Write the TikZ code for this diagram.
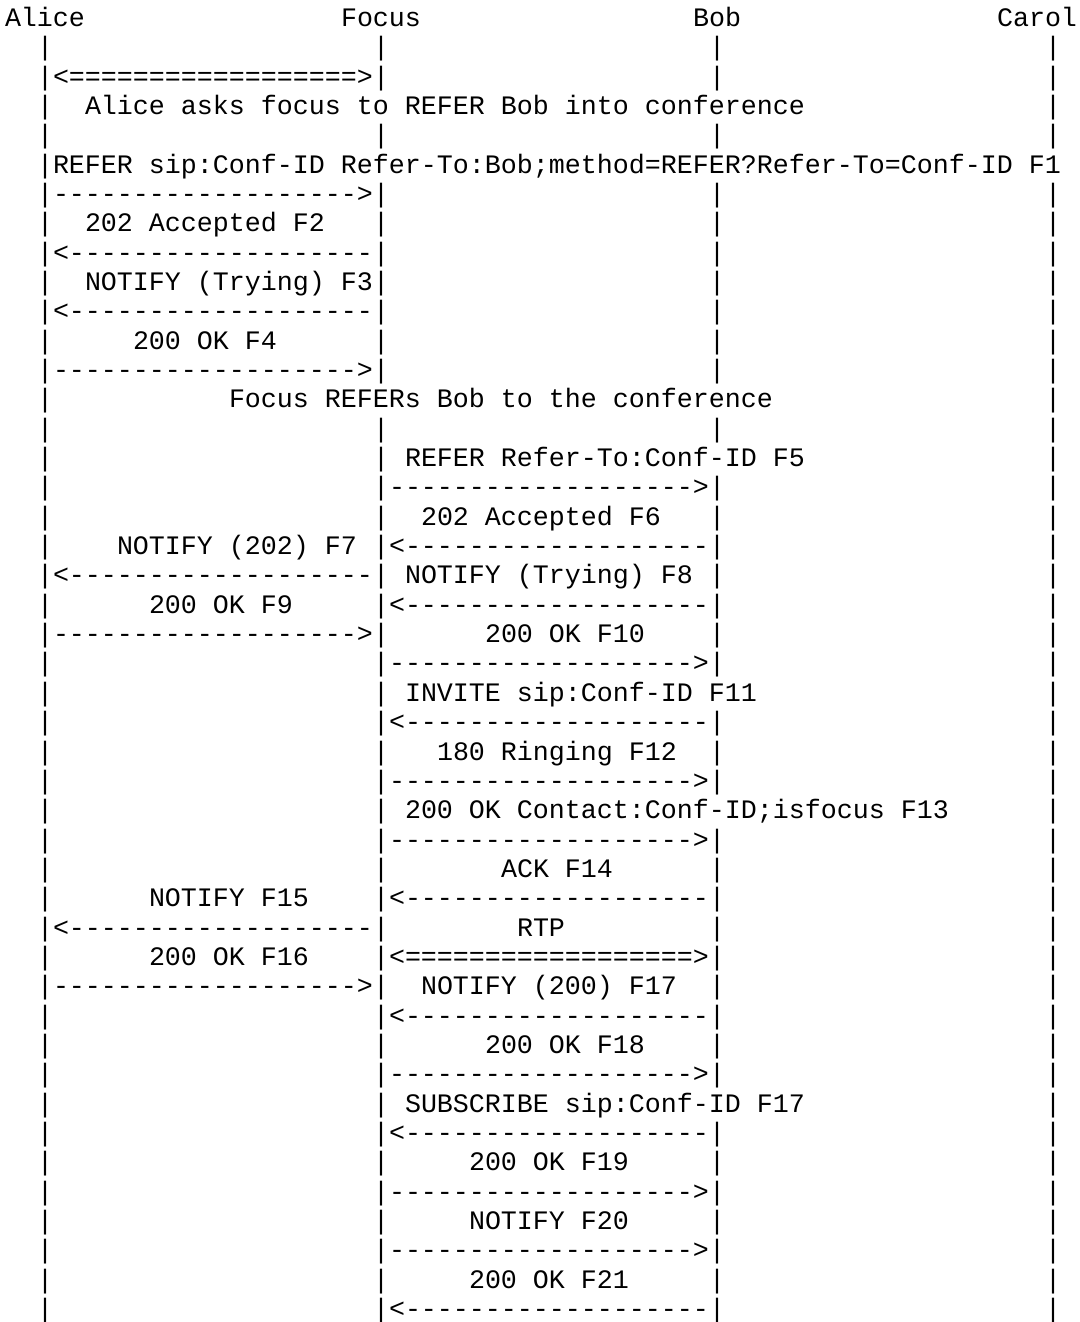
\documentclass[tikz,border=0pt]{standalone}
\usepackage{fontspec}
\setmonofont{Liberation Mono}
\usepackage{tikz}

\tikzset{
  ascii/.style={font=\ttfamily\fontsize{13.33pt}{14.67pt}\selectfont,inner sep=0pt,outer sep=0pt,anchor=base west},
}

\begin{document}
\begin{tikzpicture}[x=8pt,y=14.67pt]
  % one unit in x is one character column, one unit in y is one text row
  \def\rarr{------------------->}
  \def\larr{<-------------------}
  \def\darr{<==================>}
  \useasboundingbox (-2.5pt,13.25pt) rectangle (537.5pt,-647.75pt);
  \node[ascii] (alice) at (0,0) {Alice};
  \node[ascii] (focus) at (21,0) {Focus};
  \node[ascii] (bob) at (43,0) {Bob};
  \node[ascii] (carol) at (62,0) {Carol};
  % life lines, left out where a text runs over them
  \foreach \r in {1,...,44} \node[ascii] (la\r) at (2,-\r) {|};
  \foreach \r in {1,2,4,6,7,8,9,10,11,12,14,15,...,44} \node[ascii] (lf\r) at (23,-\r) {|};
  \foreach \r in {1,2,4,6,7,8,9,10,11,12,14,16,17,18,19,20,21,22,24,25,26,28,29,30,31,32,33,34,35,36,38,39,40,41,42,43,44}
    \node[ascii] (lb\r) at (44,-\r) {|};
  \foreach \r in {1,2,3,4,6,7,...,44} \node[ascii] (lc\r) at (65,-\r) {|};
  % Alice and the focus
  \node[ascii] (m2) at (3,-2) {\darr};
  \node[ascii] (t3) at (5,-3) {Alice asks focus to REFER Bob into conference};
  \node[ascii] (t5) at (3,-5) {REFER sip:Conf-ID Refer-To:Bob;method=REFER?Refer-To=Conf-ID F1};
  \node[ascii] (m6) at (3,-6) {\rarr};
  \node[ascii] (t7) at (5,-7) {202 Accepted F2};
  \node[ascii] (m8) at (3,-8) {\larr};
  \node[ascii] (t9) at (5,-9) {NOTIFY (Trying) F3};
  \node[ascii] (m10) at (3,-10) {\larr};
  \node[ascii] (t11) at (8,-11) {200 OK F4};
  \node[ascii] (m12) at (3,-12) {\rarr};
  % the focus refers Bob
  \node[ascii] (t13) at (14,-13) {Focus REFERs Bob to the conference};
  \node[ascii] (t15) at (25,-15) {REFER Refer-To:Conf-ID F5};
  \node[ascii] (m16) at (24,-16) {\rarr};
  \node[ascii] (t17) at (26,-17) {202 Accepted F6};
  \node[ascii] (t18) at (7,-18) {NOTIFY (202) F7};
  \node[ascii] (m18) at (24,-18) {\larr};
  \node[ascii] (m19) at (3,-19) {\larr};
  \node[ascii] (t19) at (25,-19) {NOTIFY (Trying) F8};
  \node[ascii] (t20) at (9,-20) {200 OK F9};
  \node[ascii] (m20) at (24,-20) {\larr};
  \node[ascii] (m21) at (3,-21) {\rarr};
  \node[ascii] (t21) at (30,-21) {200 OK F10};
  \node[ascii] (m22) at (24,-22) {\rarr};
  \node[ascii] (t23) at (25,-23) {INVITE sip:Conf-ID F11};
  \node[ascii] (m24) at (24,-24) {\larr};
  \node[ascii] (t25) at (27,-25) {180 Ringing F12};
  \node[ascii] (m26) at (24,-26) {\rarr};
  \node[ascii] (t27) at (25,-27) {200 OK Contact:Conf-ID;isfocus F13};
  \node[ascii] (m28) at (24,-28) {\rarr};
  \node[ascii] (t29) at (31,-29) {ACK F14};
  \node[ascii] (t30) at (9,-30) {NOTIFY F15};
  \node[ascii] (m30) at (24,-30) {\larr};
  \node[ascii] (m31) at (3,-31) {\larr};
  \node[ascii] (t31) at (32,-31) {RTP};
  \node[ascii] (t32) at (9,-32) {200 OK F16};
  \node[ascii] (m32) at (24,-32) {\darr};
  \node[ascii] (m33) at (3,-33) {\rarr};
  \node[ascii] (t33) at (26,-33) {NOTIFY (200) F17};
  \node[ascii] (m34) at (24,-34) {\larr};
  \node[ascii] (t35) at (30,-35) {200 OK F18};
  \node[ascii] (m36) at (24,-36) {\rarr};
  \node[ascii] (t37) at (25,-37) {SUBSCRIBE sip:Conf-ID F17};
  \node[ascii] (m38) at (24,-38) {\larr};
  \node[ascii] (t39) at (29,-39) {200 OK F19};
  \node[ascii] (m40) at (24,-40) {\rarr};
  \node[ascii] (t41) at (29,-41) {NOTIFY F20};
  \node[ascii] (m42) at (24,-42) {\rarr};
  \node[ascii] (t43) at (29,-43) {200 OK F21};
  \node[ascii] (m44) at (24,-44) {\larr};
\end{tikzpicture}
\end{document}
